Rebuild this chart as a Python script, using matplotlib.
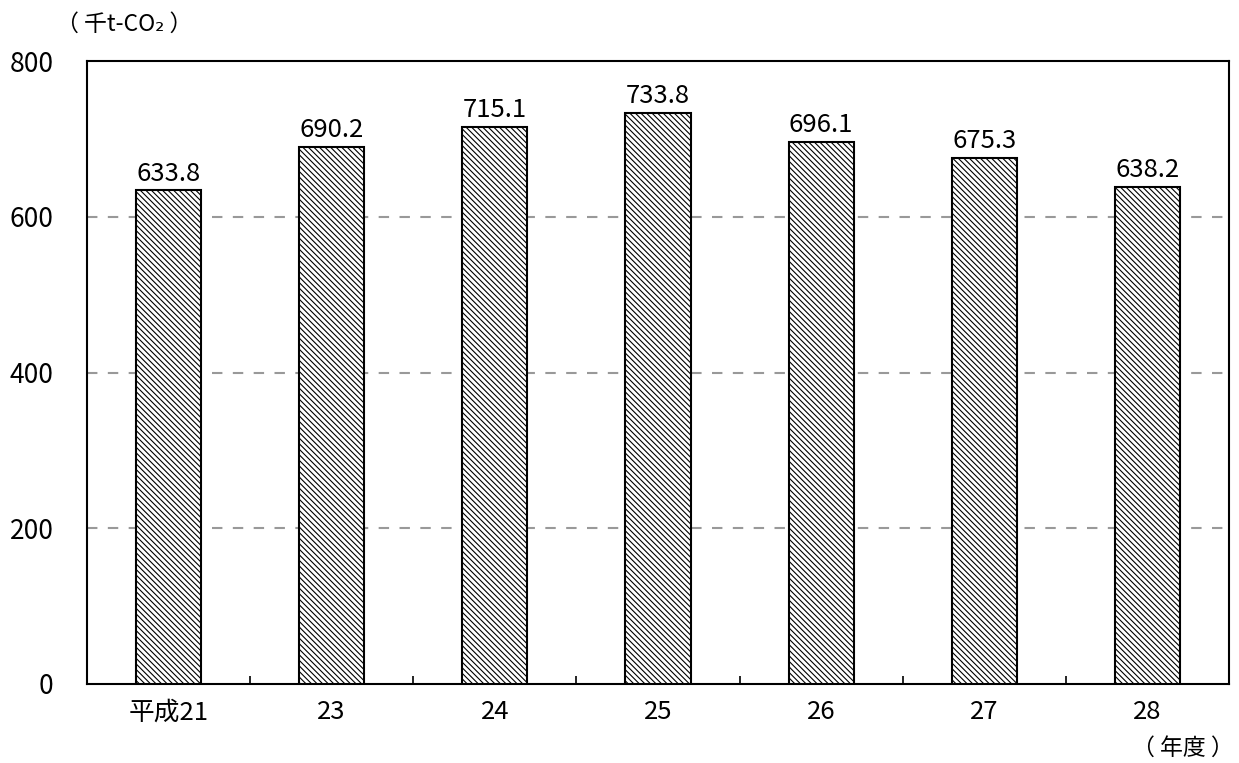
import matplotlib.pyplot as plt
import numpy as np

plt.rcParams['font.family'] = ['Noto Sans CJK JP', 'DejaVu Sans']
plt.rcParams['hatch.linewidth'] = 0.8

years = ['平成21', '23', '24', '25', '26', '27', '28']
emissions = [633.8, 690.2, 715.1, 733.8, 696.1, 675.3, 638.2]

fig = plt.figure(figsize=(12.39, 7.63), dpi=100)
ax = fig.add_axes([87 / 1239, 1 - 684 / 763, (1229 - 87) / 1239, (684 - 61) / 763])

x = np.arange(len(years))
bars = ax.bar(x, emissions, 0.4, color='white', edgecolor='black',
              linewidth=1.5, hatch='\\\\\\\\\\\\', zorder=3)

for xi, v in zip(x, emissions):
    ax.text(xi, v + 5, f'{v:.1f}', ha='center', va='bottom', fontsize=18.5)

ax.set_xlim(-0.5, len(years) - 0.5)
ax.set_ylim(0, 800)
ax.set_yticks([0, 200, 400, 600, 800])
ax.tick_params(axis='y', length=0, labelsize=19, pad=24)
ax.set_xticks(x)
ax.set_xticklabels(years)
ax.tick_params(axis='x', length=0, labelsize=18.5, pad=11)
ax.set_xticks(np.arange(len(years) - 1) + 0.5, minor=True)
ax.tick_params(axis='x', which='minor', direction='in', length=6, width=1.2)

for g in [200, 400, 600]:
    ax.axhline(g, color='#999999', linestyle=(0, (5, 5)), linewidth=1.5, zorder=1)

for s in ax.spines.values():
    s.set_linewidth(1.5)

fig.text(56 / 1239, 1 - 24 / 763, '（ 千t-CO₂ ）', fontsize=16.5, va='center', ha='left')
fig.text(1234 / 1239, 1 - 748 / 763, '（ 年度 ）', fontsize=16.5, va='center', ha='right')

fig.savefig('out.png', dpi=100)
